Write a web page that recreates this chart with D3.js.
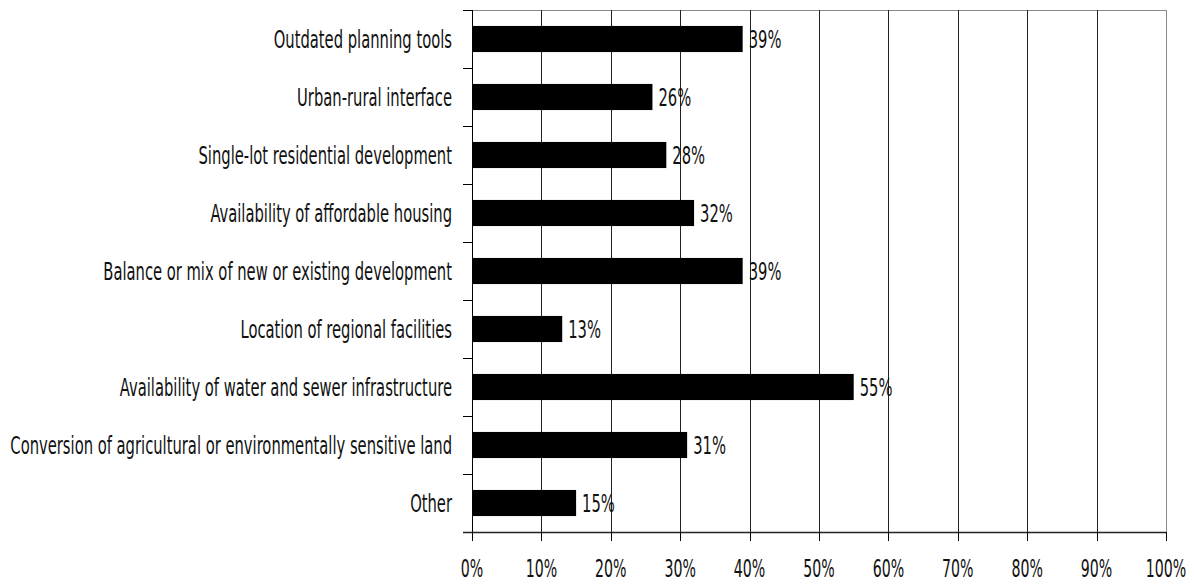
<!DOCTYPE html>
<html>
<head>
<meta charset="utf-8">
<style>
  body { margin: 0; background: white; }
  svg text { font-family: "DejaVu Sans Condensed", "Liberation Sans Narrow", sans-serif; fill: #111; }
</style>
</head>
<body>
<script src="https://cdnjs.cloudflare.com/ajax/libs/d3/7.8.5/d3.min.js"></script>
<script>
var categories = [
  "Outdated planning tools",
  "Urban-rural interface",
  "Single-lot residential development",
  "Availability of affordable housing",
  "Balance or mix of new or existing development",
  "Location of regional facilities",
  "Availability of water and sewer infrastructure",
  "Conversion of agricultural or environmentally sensitive land",
  "Other"
];
var values = [39, 26, 28, 32, 39, 13, 55, 31, 15];
var xTicks = [0, 10, 20, 30, 40, 50, 60, 70, 80, 90, 100];

var width = 1194, height = 584;
var margin = { top: 10, right: 28, bottom: 52, left: 472 };
var innerW = width - margin.left - margin.right;
var innerH = height - margin.top - margin.bottom;
var fontSize = 25;

var svg = d3.select("body").append("svg")
    .attr("width", width)
    .attr("height", height);

var g = svg.append("g")
    .attr("transform", "translate(" + margin.left + "," + margin.top + ")");

var x = d3.scaleLinear().domain([0, 100]).range([0, innerW]);
var y = d3.scaleBand().domain(categories).range([0, innerH]).paddingInner(0.55).paddingOuter(0.275);

// plot frame
g.append("rect")
    .attr("x", 0.5).attr("y", 0.5)
    .attr("width", innerW).attr("height", innerH)
    .attr("fill", "none").attr("stroke", "#888");

// gridlines
g.selectAll(".grid").data(xTicks.slice(1, -1)).enter().append("line")
    .attr("class", "grid")
    .attr("x1", d => Math.round(x(d)) + 0.5).attr("x2", d => Math.round(x(d)) + 0.5)
    .attr("y1", 0).attr("y2", innerH)
    .attr("stroke", "#222").attr("stroke-width", 1);

// bars
g.selectAll(".bar").data(values).enter().append("rect")
    .attr("class", "bar")
    .attr("x", 0)
    .attr("y", (d, i) => y(categories[i]))
    .attr("width", d => x(d))
    .attr("height", y.bandwidth())
    .attr("fill", "#000");

// y axis
var step = innerH / categories.length;
var yTicks = d3.range(categories.length + 1).map(i => i * step);
g.append("line")
    .attr("x1", 0.5).attr("x2", 0.5).attr("y1", 0).attr("y2", innerH)
    .attr("stroke", "#000");
g.selectAll(".ytick").data(yTicks).enter().append("line")
    .attr("x1", -9).attr("x2", 0)
    .attr("y1", d => Math.round(d) + 0.5).attr("y2", d => Math.round(d) + 0.5)
    .attr("stroke", "#000");

var ylab = g.selectAll(".ylab").data(categories).enter().append("text")
    .attr("class", "ylab")
    .attr("dy", "0.37em")
    .attr("text-anchor", "end")
    .attr("font-size", fontSize)
    .text(d => d);

// squeeze the font horizontally so the longest label fits like the original
var maxW = d3.max(ylab.nodes(), n => n.getComputedTextLength());
var sx = 442 / maxW;

ylab.attr("transform", d => "translate(-20," + (y(d) + y.bandwidth() / 2) + ") scale(" + sx + ",1)");

// value labels
g.selectAll(".val").data(values).enter().append("text")
    .attr("class", "val")
    .attr("transform", (d, i) => "translate(" + (x(d) + 6) + "," + (y(categories[i]) + y.bandwidth() / 2) + ") scale(" + sx + ",1)")
    .attr("dy", "0.37em")
    .attr("font-size", fontSize)
    .text(d => d + "%");

// x axis
g.append("line")
    .attr("x1", -9).attr("x2", innerW).attr("y1", innerH + 0.5).attr("y2", innerH + 0.5)
    .attr("stroke", "#222").attr("stroke-width", 1.5);
g.selectAll(".xtick").data(xTicks).enter().append("line")
    .attr("x1", d => Math.round(x(d)) + 0.5).attr("x2", d => Math.round(x(d)) + 0.5)
    .attr("y1", innerH).attr("y2", innerH + 9)
    .attr("stroke", "#000");
g.selectAll(".xlab").data(xTicks).enter().append("text")
    .attr("class", "xlab")
    .attr("transform", d => "translate(" + x(d) + "," + (innerH + 45) + ") scale(" + sx + ",1)")
    .attr("text-anchor", "middle")
    .attr("font-size", 24)
    .text(d => d + "%");
</script>
</body>
</html>
